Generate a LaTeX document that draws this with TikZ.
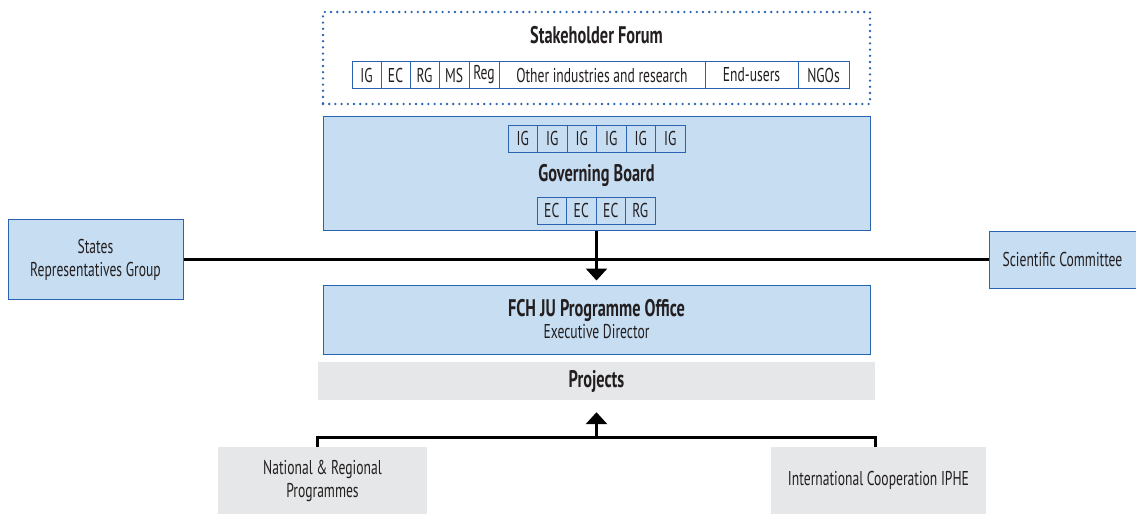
\documentclass[tikz,border=0pt]{standalone}
\usepackage{fontspec}
\setmainfont{PT Sans}[FakeStretch=0.68]
\usepackage{tikz}
\usetikzlibrary{arrows.meta,positioning}
\definecolor{jublue}{HTML}{2A64B0}
\definecolor{jufill}{HTML}{C6DDF2}
\definecolor{jugrey}{HTML}{E6E7E8}
\definecolor{jutext}{HTML}{231F20}
\tikzset{
	bigbox/.style={rectangle, draw=jublue, line width=1pt, fill=jufill, align=center,
		text=jutext, font=\fontsize{20}{22}\selectfont, inner sep=0pt},
	greybox/.style={rectangle, fill=jugrey, align=center, text=jutext,
		font=\fontsize{20}{22}\selectfont, inner sep=0pt},
	cell/.style={rectangle, draw=jublue, line width=1pt, outer sep=0pt, inner sep=0pt,
		minimum height=27pt, text=jutext, font=\fontsize{20}{22}\selectfont},
	title/.style={font=\bfseries\fontsize{24}{26}\selectfont, text=jutext},
	link/.style={line width=3pt, black},
	linkarr/.style={link, -{Triangle[length=12pt, width=21pt]}}
}

\begin{document}
\begin{tikzpicture}[x=1pt, y=-1pt]
	\useasboundingbox (0,0) rectangle (1136,514);
	% stakeholder forum
	\node[rectangle, draw=jublue, line width=2.6pt, dash pattern=on 0pt off 6.2pt, line cap=round,
		minimum width=547pt, minimum height=92pt] (forum) at (596.5,58) {};
	\node[title] (forumt) at (596.5,35) {Stakeholder Forum};
	\node[cell, minimum width=29pt, anchor=west] (fig) at (352,75) {IG};
	\node[cell, minimum width=29pt, right=0pt of fig] (fec) {EC};
	\node[cell, minimum width=29pt, right=0pt of fec] (frg) {RG};
	\node[cell, minimum width=30pt, right=0pt of frg] (fms) {MS};
	\node[cell, minimum width=30pt, right=0pt of fms] (freg) {Reg};
	\node[cell, minimum width=206pt, right=0pt of freg] (fother) {Other industries and research};
	\node[cell, minimum width=93pt, right=0pt of fother] (fend) {End-users};
	\node[cell, minimum width=51pt, right=0pt of fend] (fngo) {NGOs};
	% governing board
	\node[bigbox, minimum width=547pt, minimum height=114pt] (gb) at (596.5,173) {};
	\node[title] (gbt) at (596.5,175) {Governing Board};
	\node[cell, fill=jufill, minimum width=29.5pt, anchor=west] (g1) at (508,138.5) {IG};
	\node[cell, fill=jufill, minimum width=29.5pt, right=0pt of g1] (g2) {IG};
	\node[cell, fill=jufill, minimum width=29.5pt, right=0pt of g2] (g3) {IG};
	\node[cell, fill=jufill, minimum width=29.5pt, right=0pt of g3] (g4) {IG};
	\node[cell, fill=jufill, minimum width=29.5pt, right=0pt of g4] (g5) {IG};
	\node[cell, fill=jufill, minimum width=29.5pt, right=0pt of g5] (g6) {IG};
	\node[cell, fill=jufill, minimum width=29.5pt, anchor=west] (e1) at (537,210.5) {EC};
	\node[cell, fill=jufill, minimum width=29.5pt, right=0pt of e1] (e2) {EC};
	\node[cell, fill=jufill, minimum width=29.5pt, right=0pt of e2] (e3) {EC};
	\node[cell, fill=jufill, minimum width=29.5pt, right=0pt of e3] (e4) {RG};
	% side bodies
	\node[bigbox, minimum width=175pt, minimum height=80pt] (srg) at (95.5,259.5)
		{States\\[1pt]Representatives Group};
	\node[bigbox, minimum width=147pt, minimum height=57pt] (sc) at (1062.5,259.5)
		{Scientific Committee};
	% programme office
	\node[bigbox, minimum width=547pt, minimum height=69pt] (office) at (596.5,319.5)
		{{\bfseries\fontsize{24}{26}\selectfont FCH JU Programme Office}\\Executive Director};
	\node[greybox, minimum width=557pt, minimum height=38pt] (projects) at (596.5,381)
		{\bfseries\fontsize{24}{26}\selectfont Projects};
	% programmes feeding the projects
	\node[greybox, minimum width=209pt, minimum height=67pt] (nat) at (322.5,480.5)
		{National \& Regional\\[1pt]Programmes};
	\node[greybox, minimum width=215pt, minimum height=67pt] (intl) at (878.5,480.5)
		{International Cooperation IPHE};
	\coordinate (fork) at (596.5,437);
	% connectors
	\draw[link] (srg.east) -- (sc.west);
	\draw[linkarr, shorten >=4pt] (gb.south) -- (office.north);
	\draw[link] (nat.north -| projects.west) |- (fork) -| (intl.north -| projects.east);
	\draw[linkarr, shorten >=12pt] (fork) -- (projects.south);
\end{tikzpicture}
\end{document}
